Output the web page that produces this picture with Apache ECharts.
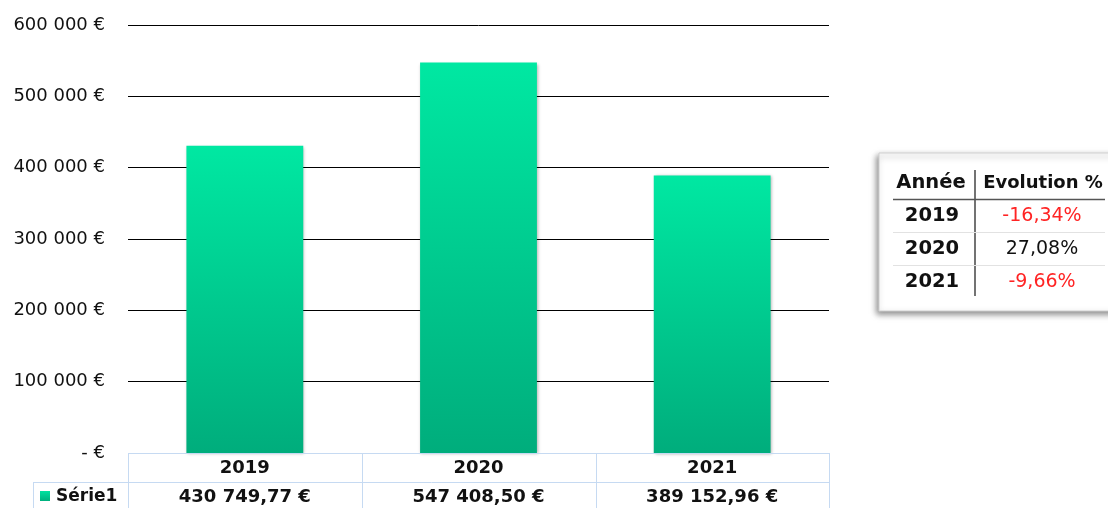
<!DOCTYPE html>
<html><head><meta charset="utf-8">
<script src="https://cdn.jsdelivr.net/npm/echarts@6/dist/echarts.min.js"></script>
<style>html,body{margin:0;padding:0;background:#fff}#c{width:1108px;height:508px}</style>
</head><body><div id="c"></div>
<script>
const categories = ['2019', '2020', '2021'];
const values = [430749.77, 547408.50, 389152.96];
const seriesName = 'Série1';
const evoYears = ['2019', '2020', '2021'];
const evoValues = [-16.34, 27.08, -9.66];
const yTicks = [0, 100000, 200000, 300000, 400000, 500000, 600000];

function fr(n, dec) {
  const s = n.toFixed(dec).split('.');
  const int = s[0].replace(/\B(?=(\d{3})+(?!\d))/g, ' ');
  return dec ? int + ',' + s[1] : int;
}
const F = 'DejaVu Sans';
const chart = echarts.init(document.getElementById('c'));
const blue = '#C6DAF2';
const g = [];
g.push({type:'line', shape:{x1:128,y1:453.5,x2:830,y2:453.5}, style:{stroke:blue,lineWidth:1}, z:10});
g.push({type:'line', shape:{x1:33,y1:482.5,x2:830,y2:482.5}, style:{stroke:blue,lineWidth:1}, z:10});
[128.5, 362.5, 596.5, 829.5].forEach(x => g.push({type:'line', shape:{x1:x,y1:453,x2:x,y2:508}, style:{stroke:blue,lineWidth:1}, z:10}));
g.push({type:'line', shape:{x1:33.5,y1:482,x2:33.5,y2:508}, style:{stroke:blue,lineWidth:1}, z:10});
g.push({type:'rect', shape:{x:40,y:491,width:10,height:10}, style:{fill:{type:'linear',x:0,y:0,x2:0,y2:1,colorStops:[{offset:0,color:'#00E2A0'},{offset:1,color:'#00B07E'}]}}, z:10});
g.push({type:'text', x:56, y:497, style:{text:seriesName, fontFamily:F, fontWeight:'bold', fontSize:17, fill:'#111', textVerticalAlign:'middle'}, z:10});
g.push({type:'rect', shape:{x:879,y:153,width:240,height:158}, style:{fill:'#fff', stroke:'#d0d0d0', lineWidth:1, shadowBlur:6, shadowOffsetX:-2, shadowOffsetY:3, shadowColor:'rgba(0,0,0,0.45)'}, z:5});
g.push({type:'line', shape:{x1:975,y1:170,x2:975,y2:296}, style:{stroke:'#444',lineWidth:1.5}, z:11});
g.push({type:'line', shape:{x1:893,y1:199.5,x2:1105,y2:199.5}, style:{stroke:'#555',lineWidth:1.5}, z:11});
g.push({type:'line', shape:{x1:893,y1:232.5,x2:1105,y2:232.5}, style:{stroke:'#e2e2e2',lineWidth:1}, z:11});
g.push({type:'line', shape:{x1:893,y1:265.5,x2:1105,y2:265.5}, style:{stroke:'#e2e2e2',lineWidth:1}, z:11});
g.push({type:'text', x:931, y:183, style:{text:'Année', fontFamily:F, fontWeight:'bold', fontSize:19.5, fill:'#111', textAlign:'center', textVerticalAlign:'middle'}, z:12});
g.push({type:'text', x:1043, y:183, style:{text:'Evolution %', fontFamily:F, fontWeight:'bold', fontSize:18, fill:'#111', textAlign:'center', textVerticalAlign:'middle'}, z:12});
evoYears.forEach((yr, i) => {
  const yy = 216 + i * 33;
  g.push({type:'text', x:932, y:yy, style:{text:yr, fontFamily:F, fontWeight:'bold', fontSize:19.5, fill:'#111', textAlign:'center', textVerticalAlign:'middle'}, z:12});
  const v = evoValues[i];
  g.push({type:'text', x:1042, y:yy, style:{text:fr(v, 2) + '%', fontFamily:F, fontSize:19, fill: v < 0 ? '#FF2424' : '#111', textAlign:'center', textVerticalAlign:'middle'}, z:12});
});

chart.setOption({
  animation:false,
  grid:{left:128, right:279, top:25, bottom:55, outerBoundsMode:'none', containLabel:false},
  xAxis:{type:'category', data:categories, axisLine:{show:false}, axisTick:{show:false},
    axisLabel:{margin:1, interval:0, formatter:(val, idx) => '{y|' + val + '}\n{v|' + fr(values[idx], 2) + ' €}',
      rich:{y:{fontFamily:F, fontWeight:'bold', fontSize:18, color:'#111', lineHeight:29, height:29},
            v:{fontFamily:F, fontWeight:'bold', fontSize:18, color:'#111', lineHeight:29, height:29}}}},
  yAxis:{type:'value', min:0, max:600000, interval:100000, axisLine:{show:false}, axisTick:{show:false},
    axisLabel:{margin:23, color:'#111', fontFamily:F, fontSize:18, formatter:v => v === 0 ? '- €' : fr(v, 0) + ' €'},
    splitLine:{lineStyle:{color:'#000', width:1}}},
  series:[{type:'bar', name:seriesName, data:values, barWidth:'50%',
    itemStyle:{color:{type:'linear',x:0,y:0,x2:0,y2:1,colorStops:[{offset:0,color:'#00E8A2'},{offset:1,color:'#00AD7C'}]},
      shadowBlur:3, shadowOffsetX:1, shadowOffsetY:1, shadowColor:'rgba(0,0,0,0.3)'}}],
  graphic:g
});
</script></body></html>
